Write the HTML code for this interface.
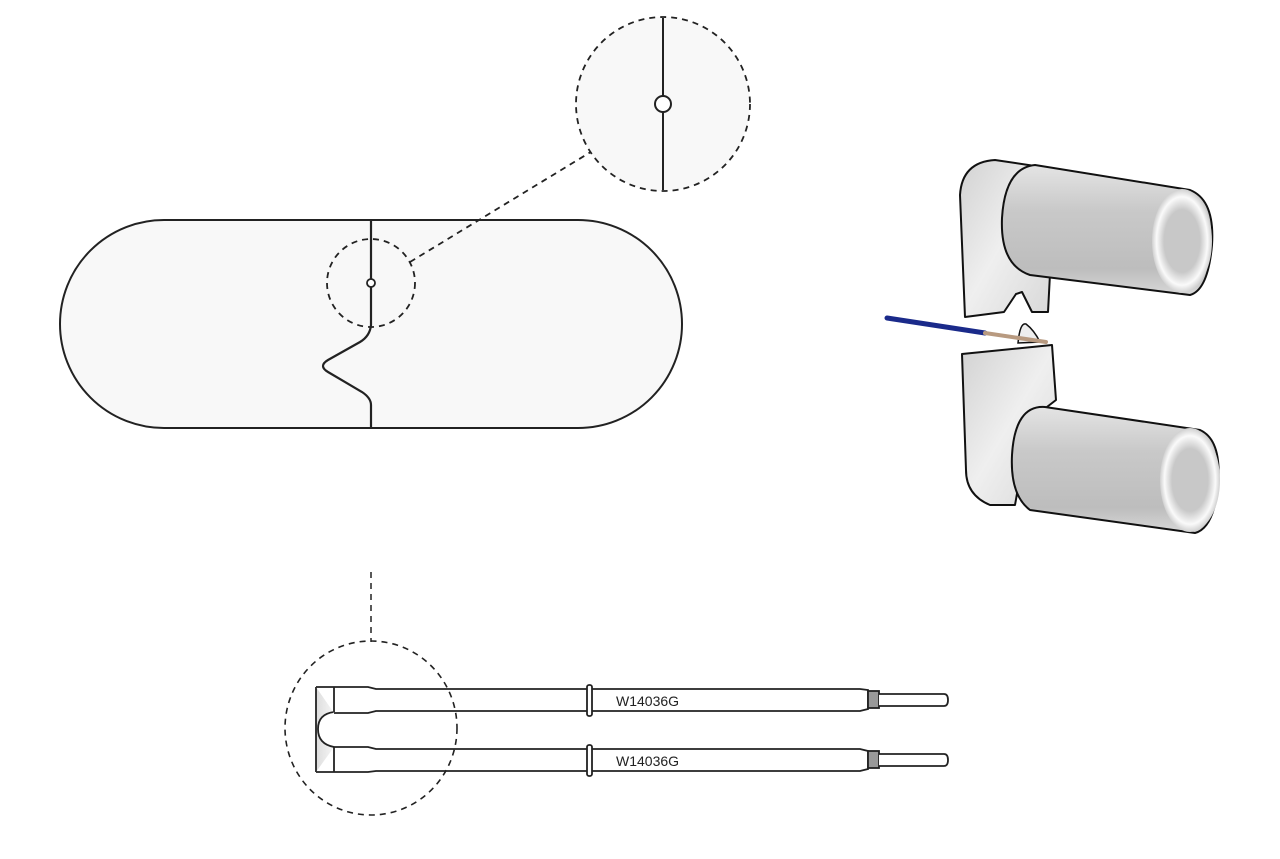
<!DOCTYPE html>
<html><head><meta charset="utf-8"><style>html,body{margin:0;padding:0;background:#fff}svg{display:block}</style></head>
<body>
<svg width="1280" height="859" viewBox="0 0 1280 859" xmlns="http://www.w3.org/2000/svg">
<defs>
<linearGradient id="cyl" x1="0" y1="0" x2="0" y2="1">
<stop offset="0" stop-color="#e4e4e4"/><stop offset="0.35" stop-color="#c9c9c9"/><stop offset="0.8" stop-color="#bdbdbd"/><stop offset="1" stop-color="#d8d8d8"/></linearGradient>
<linearGradient id="plate" x1="0" y1="0" x2="1" y2="1">
<stop offset="0" stop-color="#d2d2d2"/><stop offset="0.5" stop-color="#efefef"/><stop offset="1" stop-color="#d8d8d8"/></linearGradient>
<radialGradient id="endc" cx="0.5" cy="0.5" r="0.5"><stop offset="0.6" stop-color="#c8c8c8"/><stop offset="0.85" stop-color="#fafafa"/><stop offset="1" stop-color="#d0d0d0"/></radialGradient>
<linearGradient id="lblock" x1="0" y1="0" x2="1" y2="0"><stop offset="0" stop-color="#ddd"/><stop offset="1" stop-color="#f6f6f6"/></linearGradient>
</defs>
<g fill="none" stroke="#222" stroke-width="2">
<path d="M164,220 H578 A104,104 0 0 1 578,428 H164 A104,104 0 0 1 164,220 Z" fill="#f8f8f8"/>
<path d="M371,220 V325 Q370,336 360,342 L328,360 Q318,366 328,372 L362,392 Q371,398 371,405 V428" stroke-width="2.2"/>
<circle cx="371" cy="283" r="4" fill="#fff" stroke-width="1.8"/>
<circle cx="371" cy="283" r="44" stroke-dasharray="6,5" stroke-width="1.8"/>
<line x1="410" y1="262" x2="594" y2="150" stroke-dasharray="6,5" stroke-width="1.8"/>
<circle cx="663" cy="104" r="87" fill="#f8f8f8" stroke-dasharray="6,5" stroke-width="1.8"/>
<line x1="663" y1="18" x2="663" y2="190" stroke-width="2"/>
<circle cx="663" cy="104" r="8" fill="#fff" stroke-width="2"/>
<line x1="371" y1="572" x2="371" y2="642" stroke-dasharray="6,5" stroke-width="1.5"/>
<g stroke-width="1.8">
<rect x="316" y="687" width="18" height="85" fill="url(#lblock)" stroke="none"/>
<path d="M316,687 V772" />
<path d="M334,712 Q318,714 318,729 Q318,744 334,747" fill="#fff"/>
<path d="M316,687 H368 L376,689 H860 L868,690 V709 L860,711 H376 L368,713 H334" fill="#fff"/>
<path d="M316,772 H368 L376,771 H860 L868,769 V751 L860,749 H376 L368,747 H334" fill="#fff"/>
<line x1="334" y1="687" x2="334" y2="712"/><line x1="334" y1="747" x2="334" y2="772"/>
<rect x="868" y="691" width="11" height="17" fill="#999"/>
<rect x="868" y="751" width="11" height="17" fill="#999"/>
<path d="M879,694 H944 Q948,694 948,700 Q948,706 944,706 H879" fill="#fff"/>
<path d="M879,754 H944 Q948,754 948,760 Q948,766 944,766 H879" fill="#fff"/>
<rect x="587" y="685" width="5" height="31" rx="2" fill="#fff"/>
<rect x="587" y="745" width="5" height="31" rx="2" fill="#fff"/>
</g>
<ellipse cx="371" cy="728" rx="86" ry="87" stroke-dasharray="6,5" stroke-width="1.6"/>
</g>
<text x="616" y="706" font-family="Liberation Sans, sans-serif" font-size="14" fill="#222">W14036G</text>
<text x="616" y="766" font-family="Liberation Sans, sans-serif" font-size="14" fill="#222">W14036G</text>
<g stroke="#111" stroke-width="2" stroke-linejoin="round">
<path d="M960,195 Q962,162 995,160 L1035,166 L1030,272 L1050,274 L1048,312 L1032,312 L1022,292 L1016,294 L1004,312 L965,317 Z" fill="url(#plate)"/>
<path d="M1035,165 L1190,190 Q1215,200 1212,245 Q1208,290 1190,295 L1030,275 Q1000,265 1002,218 Q1005,168 1035,165 Z" fill="url(#cyl)"/>
<ellipse cx="1182" cy="241" rx="30" ry="52" fill="url(#endc)" stroke="none"/>
<path d="M962,354 L1052,345 L1056,400 L1030,420 L1015,505 L990,505 Q966,495 966,470 Z" fill="url(#plate)"/>
<path d="M1045,407 L1200,430 Q1222,440 1218,485 Q1214,528 1195,533 L1030,510 Q1010,495 1012,455 Q1015,405 1045,407 Z" fill="url(#cyl)"/>
<ellipse cx="1190" cy="480" rx="30" ry="52" fill="url(#endc)" stroke="none"/>
</g>
<path d="M1018,343 Q1020,322 1026,324 Q1034,330 1040,342 Z" fill="#eee" stroke="#111" stroke-width="1.5"/>
<line x1="887" y1="318" x2="985" y2="333" stroke="#1a2a8a" stroke-width="5" stroke-linecap="round"/>
<line x1="985" y1="333" x2="1046" y2="342" stroke="#b89a80" stroke-width="4" stroke-linecap="round"/>
</svg>
</body></html>
